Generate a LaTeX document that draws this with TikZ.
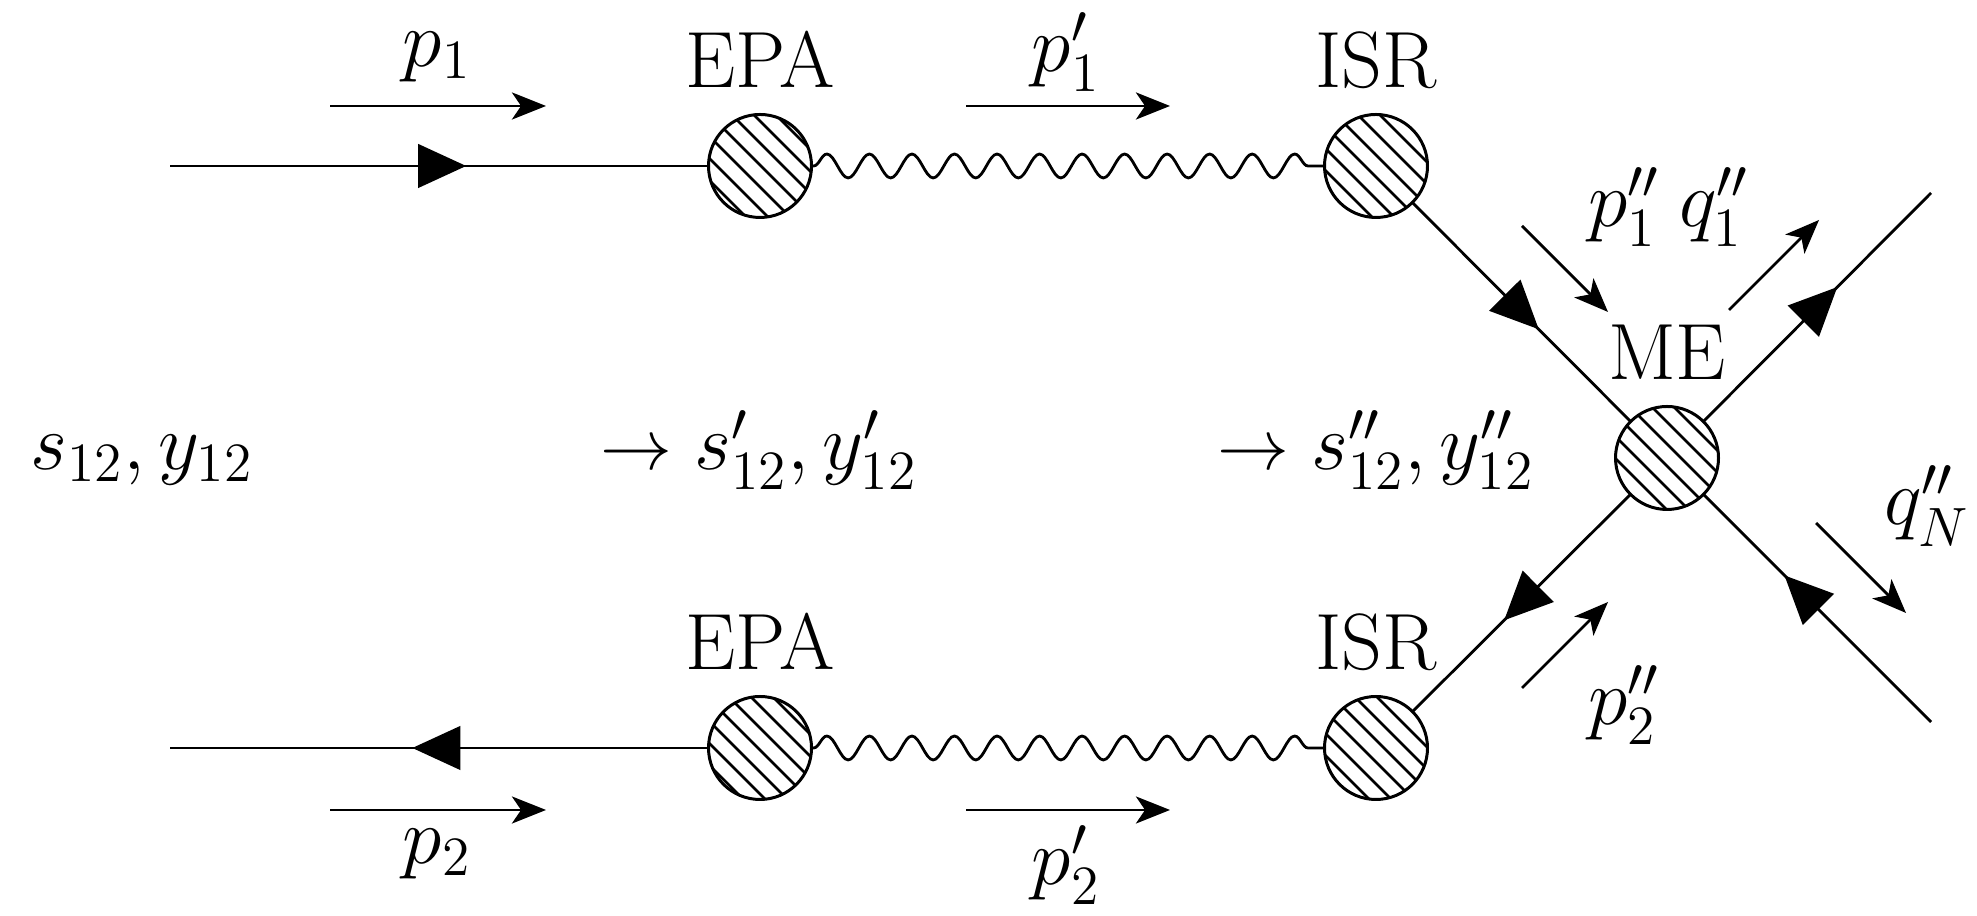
\documentclass[tikz,border=0pt]{standalone}
\usepackage{amsmath, amssymb}
\usepackage{tikz}
\usetikzlibrary{arrows.meta, decorations.markings, decorations.pathmorphing}

\tikzset{
    blob/.style={circle, draw, line width=0.85pt, inner sep=0pt, outer sep=0pt, minimum size=1.03cm,
        path picture={
            \foreach \k in {-3,...,3}
                \draw[line width=0.72pt] ([shift={({(\k*0.22+#1)/2},{(\k*0.22+#1)/2})}]path picture bounding box.center) ++(-0.8,0.8) -- ++(1.6,-1.6);
        }},
    blob/.default=0,
    fermion/.style={line width=0.8pt, postaction={decorate, decoration={markings,
        mark=at position #1 with {\arrow{Triangle[length=13.7pt, width=12.4pt]}}}}},
    photon/.style={line width=0.8pt, decorate, decoration={snake, amplitude=3.4pt, segment length=12.1pt, pre length=0.6pt, post length=0pt}},
    mom/.style={line width=0.8pt, -{Stealth[length=9.7pt, width=7.7pt, inset=2.6pt]}},
    lab/.style={font=\huge, scale=1.095, anchor=base, inner sep=0pt}
}
\newcommand{\shortto}{\mathrel{\scalebox{0.9}{$\to$}}}

\begin{document}
\begin{tikzpicture}

    \useasboundingbox (0,0) rectangle (19.77,9.16);

    % ==========================================
    % Blobs
    % ==========================================
    \node[blob=0.01] (EPA1) at (7.60,7.50) {};
    \node[blob=0.11] (ISR1) at (13.76,7.50) {};
    \node[blob=0.14] (ME) at (16.67,4.58) {};
    \node[blob=-0.02] (EPA2) at (7.60,1.68) {};
    \node[blob=0.08] (ISR2) at (13.76,1.68) {};

    \node[lab] (EPA1lab) at (7.60,8.28) {EPA};
    \node[lab] (ISR1lab) at (13.76,8.28) {ISR};
    \node[lab] (MElab) at (16.67,5.36) {ME};
    \node[lab] (EPA2lab) at (7.60,2.46) {EPA};
    \node[lab] (ISR2lab) at (13.76,2.46) {ISR};

    % ==========================================
    % Lines
    % ==========================================
    \coordinate (in1) at (1.70,7.50);
    \coordinate (in2) at (1.70,1.68);
    \coordinate (out1) at (19.31,7.23);
    \coordinate (outN) at (19.31,1.94);

    \draw[fermion=0.55] (in1) -- (EPA1);
    \draw[fermion=0.55] (EPA2) -- (in2);
    \draw[photon] (EPA1) -- (ISR1);
    \draw[photon] (EPA2) -- (ISR2);
    \draw[fermion=0.58] (ISR1) -- (ME);
    \draw[fermion=0.58] (ME) -- (ISR2);
    \draw[fermion=0.59] (ME) -- (out1);
    \draw[fermion=0.645] (outN) -- (ME);

    % ==========================================
    % Momentum arrows
    % ==========================================
    \coordinate (p1s) at (3.30,8.10);
    \coordinate (p1ps) at (9.66,8.10);
    \coordinate (p2s) at (3.30,1.06);
    \coordinate (p2ps) at (9.66,1.06);
    \draw[mom] (p1s) -- ++(2.16,0);
    \draw[mom] (p1ps) -- ++(2.04,0);
    \draw[mom] (p2s) -- ++(2.16,0);
    \draw[mom] (p2ps) -- ++(2.04,0);

    \coordinate (p1pps) at (15.22,6.90);
    \coordinate (p2pps) at (15.22,2.28);
    \coordinate (q1s) at (17.29,6.06);
    \coordinate (qNs) at (18.16,3.93);
    \draw[mom] (p1pps) -- ++(0.86,-0.86);
    \draw[mom] (p2pps) -- ++(0.86,0.86);
    \draw[mom] (q1s) -- ++(0.90,0.90);
    \draw[mom] (qNs) -- ++(0.90,-0.90);

    % ==========================================
    % Labels
    % ==========================================
    \node[lab] (p1lab) at (4.37,8.49) {$p_1$};
    \node[lab] (p1plab) at (10.66,8.44) {$p_1'$};
    \node[lab] (p2lab) at (4.37,0.52) {$p_2$};
    \node[lab] (p2plab) at (10.66,0.31) {$p_2'$};
    \node[lab] (p1pplab) at (16.24,6.89) {$p_1''$};
    \node[lab] (q1lab) at (17.14,6.89) {$q_1''$};
    \node[lab] (qNlab) at (19.27,3.91) {$q_N''$};
    \node[lab] (p2pplab) at (16.24,1.91) {$p_2''$};

    \node[lab] (s0) at (1.42,4.46) {$s_{12},y_{12}$};
    \node[lab] (s1) at (7.59,4.46) {$\shortto s_{12}',y_{12}'$};
    \node[lab] (s2) at (13.76,4.46) {$\shortto s_{12}'',y_{12}''$};

\end{tikzpicture}
\end{document}
